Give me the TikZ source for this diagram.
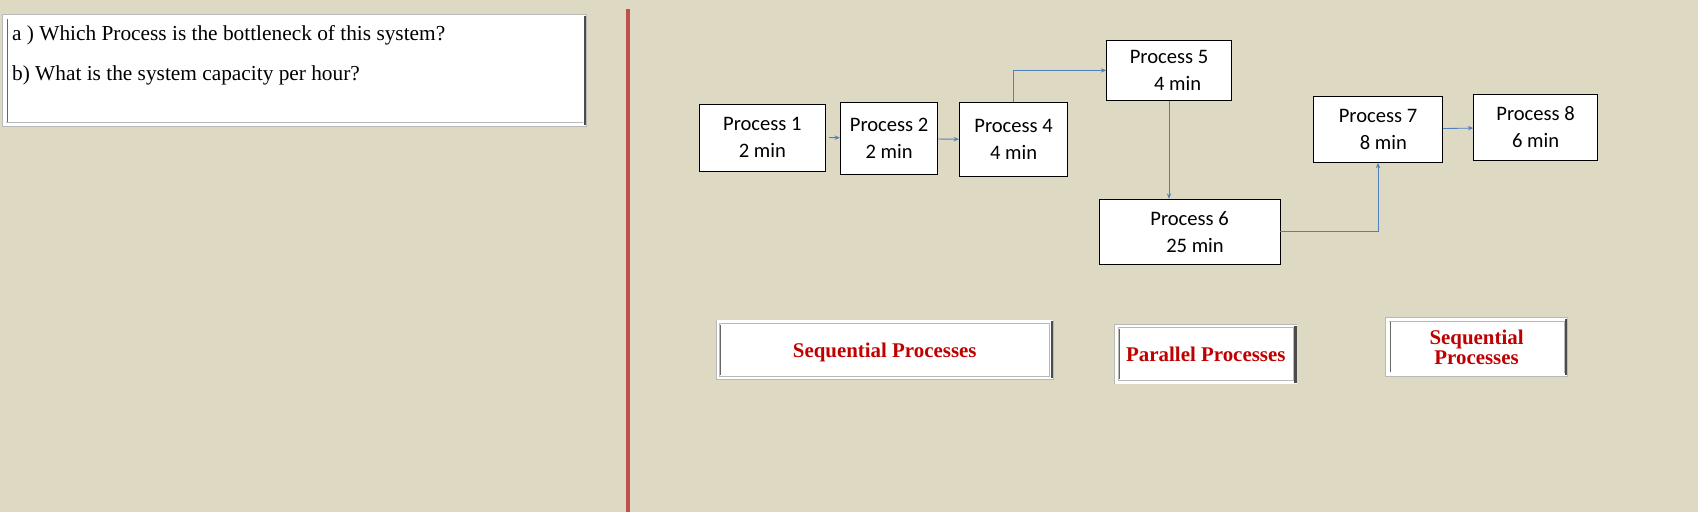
\documentclass[tikz,border=0pt]{standalone}
\usepackage{fontspec}
\setmainfont{Liberation Serif}
\newfontfamily\procfont{Carlito}
\usetikzlibrary{arrows.meta}
\definecolor{bgtan}{HTML}{DDD9C3}
\definecolor{divred}{HTML}{C0504D}
\definecolor{flowblue}{HTML}{4F81BD}
\definecolor{labelred}{HTML}{C00000}

\begin{document}
\begin{tikzpicture}[x=1pt, y=-1pt,
    process/.style={draw=black, fill=white, line width=0.8pt, inner sep=0pt, align=center,
      font=\procfont\fontsize{19}{25}\selectfont},
    flow/.style={draw=flowblue, line width=0.8pt, -{Stealth[length=5pt,width=4pt]}},
    framebox/.style={draw=gray!55, fill=white, double=white, double distance=2.5pt,
      line width=0.7pt, inner sep=0pt, align=center},
    tag/.style={framebox, text=labelred, text depth=0pt, font=\bfseries\fontsize{19.3}{19}\selectfont},
    question/.style={font=\fontsize{19.7}{24}\selectfont, anchor=base west, inner sep=0pt},
    shadeedge/.style={draw=black!70, line width=2pt},
    inneredge/.style={draw=gray!80!black, line width=1pt}]
  \fill[bgtan] (0,0) rectangle (1568,473);
  % question box
  \node[framebox, minimum width=536, minimum height=100] (qframe) at (272,65) {};
  \node[question] (qa) at (11,37) {a ) Which Process is the bottleneck of this system?};
  \node[question] (qb) at (11,74) {b) What is the system capacity per hour?};
  % divider
  \draw[divred, line width=3pt] (580,8) -- (580,473);
  % processes
  \node[process, minimum width=116, minimum height=62] (p1) at (704,127) {Process 1\\2 min};
  \node[process, minimum width=90, minimum height=66] (p2) at (821,128) {Process 2\\2 min};
  \node[process, minimum width=100, minimum height=68] (p4) at (936,129) {Process 4\\4 min};
  \node[process, minimum width=115, minimum height=56] (p5) at (1079.5,65) {Process 5\\\hspace*{16pt}4 min};
  \node[process, minimum width=167, minimum height=60] (p6) at (1098.5,214) {Process 6\\\hspace*{10pt}25 min};
  \node[process, minimum width=119, minimum height=61] (p7) at (1272.5,119.5) {Process 7\\\hspace*{10pt}8 min};
  \node[process, minimum width=114, minimum height=61] (p8) at (1418,117.5) {Process 8\\6 min};
  \draw[flow] ([xshift=3pt]p1.east) -- (p2);
  \draw[flow] (p2) -- (p4);
  \draw[flow] (p4.north) |- (p5.west);
  \draw[flow] (p5.south) -- (p5.south |- p6.north);
  \draw[flow] (p6.east) -| (p7.south);
  \draw[flow] (p7) -- (p8);
  % labels
  \node[tag, minimum width=308, minimum height=52] (seqa) at (817,323) {Sequential Processes};
  \node[tag, minimum width=165, minimum height=52] (para) at (1113.5,327) {Parallel Processes};
  \node[tag, minimum width=165, minimum height=51] (seqb) at (1363.5,320.5) {Sequential\\Processes};
  \foreach \b in {qframe,seqa,para,seqb} {
    \draw[shadeedge] (\b.north east) -- (\b.south east);
    \draw[inneredge] ([xshift=3pt,yshift=-3pt]\b.north west) -- ([xshift=3pt,yshift=3pt]\b.south west);
  }
\end{tikzpicture}
\end{document}
